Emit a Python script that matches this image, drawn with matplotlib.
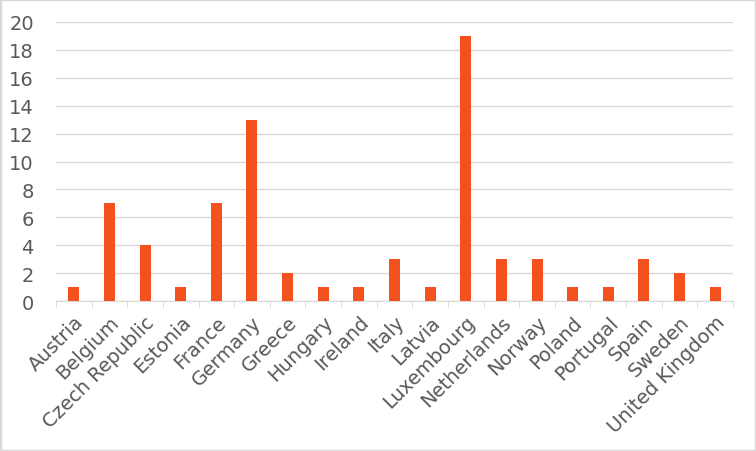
import matplotlib.pyplot as plt
import numpy as np

countries = ['Austria', 'Belgium', 'Czech Republic', 'Estonia', 'France', 'Germany',
             'Greece', 'Hungary', 'Ireland', 'Italy', 'Latvia', 'Luxembourg',
             'Netherlands', 'Norway', 'Poland', 'Portugal', 'Spain', 'Sweden',
             'United Kingdom']
values = [1, 7, 4, 1, 7, 13, 2, 1, 1, 3, 1, 19, 3, 3, 1, 1, 3, 2, 1]
yticks = [0, 2, 4, 6, 8, 10, 12, 14, 16, 18, 20]

plt.rcParams['font.family'] = 'DejaVu Sans'
fig = plt.figure(figsize=(7.56, 4.52), dpi=100)
ax = fig.add_axes([56/756, 1-302/452, (733-56)/756, (302-23)/452])

x = np.arange(len(countries))
ax.bar(x, values, width=0.31, color='#F4511E', zorder=3)

ax.set_xlim(-0.5, len(countries)-0.5)
ax.set_ylim(0, 20)
ax.set_yticks(yticks)
ax.yaxis.grid(True, color='#d9d9d9', linewidth=1, zorder=0)
ax.tick_params(axis='y', length=0, pad=16, labelsize=14, labelcolor='#595959')

ax.set_xticks(x)
ax.set_xticklabels(countries, rotation=45, ha='right', va='top', rotation_mode='anchor',
                   fontsize=14, color='#595959')
ax.set_xticks(np.arange(-0.5, len(countries), 1), minor=True)
ax.tick_params(axis='x', which='major', length=0, pad=8)
ax.tick_params(axis='x', which='minor', length=5, color='#d9d9d9', direction='out')

for s in ['top', 'right', 'left']:
    ax.spines[s].set_visible(False)
ax.spines['bottom'].set_color('#d9d9d9')

fig.patches.append(plt.Rectangle((0, 0), 1, 1, transform=fig.transFigure,
                                 fill=False, edgecolor='#d9d9d9', linewidth=2.5))
fig.savefig('out.png', dpi=100)
